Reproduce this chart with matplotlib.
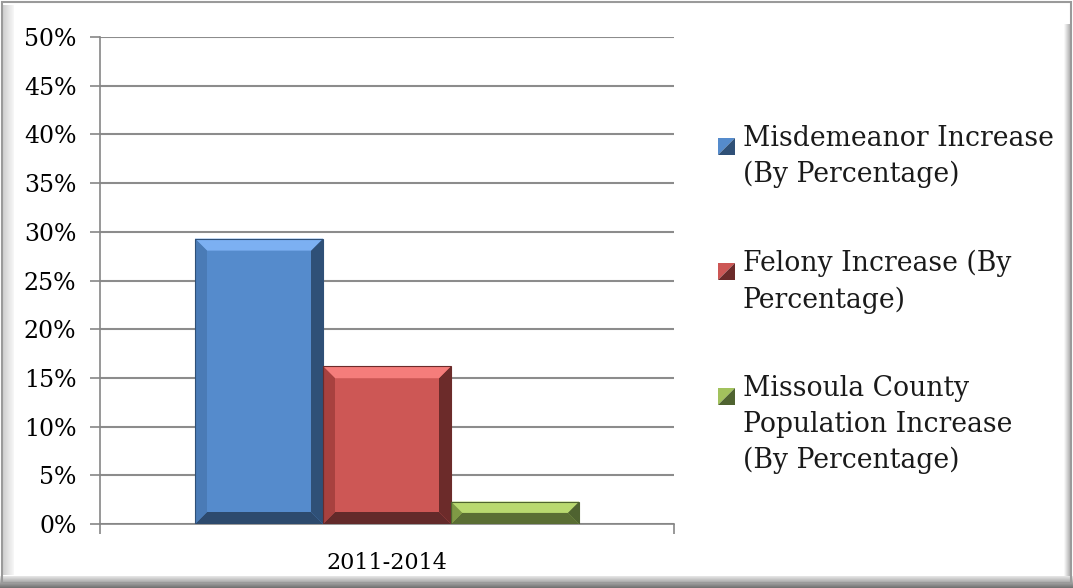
import matplotlib
matplotlib.use("Agg")
import matplotlib.pyplot as plt
from matplotlib.patches import Polygon, Rectangle
from matplotlib.ticker import MultipleLocator, FuncFormatter

plt.rcParams['font.family'] = ['DejaVu Serif']

category = ["2011-2014"]
series = ["Misdemeanor Increase\n(By Percentage)",
          "Felony Increase (By\nPercentage)",
          "Missoula County\nPopulation Increase\n(By Percentage)"]
values = [29.3, 16.2, 2.3]

# face, top, left, right, bottom bevel colours
shades = [
    ["#558bcc", "#7cb0f2", "#4a7bb6", "#2f5077", "#2d4a6d"],
    ["#cd5755", "#f57d7b", "#a8413f", "#6c2b2a", "#632a2a"],
    ["#a2c25d", "#b9d970", "#7f9a45", "#4f6330", "#5a6e34"],
]

fig = plt.figure(figsize=(10.73, 5.88), dpi=100)
fig.patch.set_facecolor("white")

# frame with shadowy edges
for i in range(12):
    g = 0.80 + 0.015 * i
    fig.add_artist(Rectangle((2 / 1073 + i / 1073, 13 / 588), 1 / 1073, 570 / 588,
                             transform=fig.transFigure, color=str(min(g, 1)), lw=0))
for i in range(12):
    g = 0.45 + 0.04 * i
    fig.add_artist(Rectangle((0, i / 588), 1, 1 / 588, transform=fig.transFigure,
                             color=str(min(g, 1)), lw=0))
for i in range(8):
    g = 0.97 - 0.05 * i
    fig.add_artist(Rectangle((1064 / 1073 + i / 1073, 12 / 588), 1 / 1073, 552 / 588,
                             transform=fig.transFigure, color=str(max(g, 0.5)), lw=0))
fig.add_artist(Rectangle((2 / 1073, 5 / 588), 1069 / 1073, 581 / 588,
                         transform=fig.transFigure, fill=False, ec="#9a9a9a", lw=1.5))

ax = fig.add_axes([100 / 1073, 64 / 588, 574 / 1073, 487 / 588])
ax.set_facecolor("none")

w = 128 / 574
xs = [-w, 0, w]
bars = ax.bar(xs, values, width=w, color=[s[0] for s in shades], lw=0, zorder=3)

ax.set_xlim(-0.5, 0.5)
ax.set_ylim(0, 50)
ax.yaxis.set_major_locator(MultipleLocator(5))
ax.yaxis.set_major_formatter(FuncFormatter(lambda v, p: "%d%%" % v))
ax.set_xticks([0])
ax.set_xticklabels(category)
ax.set_xticks([-0.5, 0.5], minor=True)
ax.tick_params(axis="x", which="major", length=0, labelsize=16, pad=20)
ax.tick_params(axis="x", which="minor", length=7, color="#868686", width=1.2)
ax.tick_params(axis="y", length=7, color="#868686", width=1.2, labelsize=17, pad=10)
ax.grid(axis="y", color="#8c8c8c", lw=1.5, zorder=1)
for side in ["top", "right"]:
    ax.spines[side].set_visible(False)
for side in ["left", "bottom"]:
    ax.spines[side].set_color("#868686")
    ax.spines[side].set_linewidth(1.2)

# bevel effect, built in pixel space from each bar
fig.canvas.draw()
inv = ax.transData.inverted()
for bar, sh in zip(bars, shades):
    (x0, y0), (x1, y1) = ax.transData.transform([(bar.get_x(), 0),
                                                 (bar.get_x() + bar.get_width(), bar.get_height())])
    b = min(12, (y1 - y0) / 2)
    outer = [(x0, y0), (x1, y0), (x1, y1), (x0, y1)]
    inner = [(x0 + b, y0 + b), (x1 - b, y0 + b), (x1 - b, y1 - b), (x0 + b, y1 - b)]
    sides = {"bottom": (0, 1, sh[4]), "right": (1, 2, sh[3]),
             "top": (2, 3, sh[1]), "left": (3, 0, sh[2])}
    for name, (a, c, col) in sides.items():
        pts = inv.transform([outer[a], outer[c], inner[c], inner[a]])
        ax.add_patch(Polygon(pts, closed=True, color=col, lw=0, zorder=4))
    ax.add_patch(Rectangle(inv.transform(outer[0]), bar.get_width(), bar.get_height(),
                           fill=False, ec=sh[3], lw=0.8, zorder=5))

# legend drawn by hand so the marker sits by the first line
entry_tops = [125, 250, 375]
for label, sh, top in zip(series, shades, entry_tops):
    mx, my, ms = 718 / 1073, 1 - (top + 30) / 588, 17
    sx, sy = ms / 1073, ms / 588
    fig.add_artist(Polygon([(mx, my), (mx, my + sy), (mx + sx, my + sy)], closed=True,
                           transform=fig.transFigure, color=sh[0], lw=0))
    fig.add_artist(Polygon([(mx, my), (mx + sx, my), (mx + sx, my + sy)], closed=True,
                           transform=fig.transFigure, color=sh[3], lw=0))
    fig.text(743 / 1073, 1 - top / 588, label, fontsize=19.2, va="top", ha="left",
             linespacing=1.42, color="#1a1a1a")

fig.savefig("out.png", dpi=100)
